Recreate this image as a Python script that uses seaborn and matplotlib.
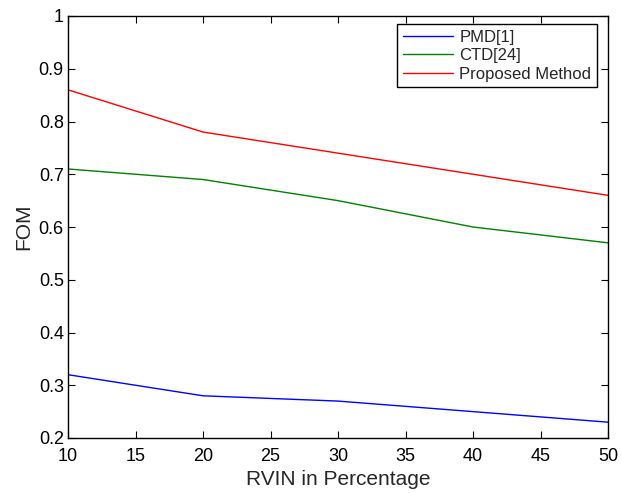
import matplotlib
matplotlib.use("Agg")
import matplotlib.pyplot as plt
import seaborn as sns
import pandas as pd

rvin = [10, 20, 30, 40, 50]
pmd = [0.32, 0.28, 0.27, 0.25, 0.23]
ctd = [0.71, 0.69, 0.65, 0.60, 0.57]
proposed = [0.86, 0.78, 0.74, 0.70, 0.66]
series_names = ["PMD[1]", "CTD[24]", "Proposed Method"]
x_ticks = [10, 15, 20, 25, 30, 35, 40, 45, 50]
y_ticks = [0.2, 0.3, 0.4, 0.5, 0.6, 0.7, 0.8, 0.9, 1.0]

df = pd.DataFrame({
    "RVIN": rvin * 3,
    "FOM": pmd + ctd + proposed,
    "Method": sum([[n] * len(rvin) for n in series_names], []),
})

sns.set_style("ticks")
plt.rcParams["font.family"] = ["Liberation Sans", "DejaVu Sans"]

fig = plt.figure(figsize=(6.22, 4.93), dpi=100)
ax = fig.add_axes([68 / 622, 1 - 438 / 493, 540 / 622, 422 / 493])

sns.lineplot(data=df, x="RVIN", y="FOM", hue="Method",
             palette=["#0000ff", "#008000", "#ff0000"], linewidth=1.0, ax=ax)

ax.set_xlim(10, 50)
ax.set_ylim(0.2, 1.0)
ax.set_xticks(x_ticks)
ax.set_xticklabels([str(t) for t in x_ticks])
ax.set_yticks(y_ticks)
ax.set_yticklabels(["0.2", "0.3", "0.4", "0.5", "0.6", "0.7", "0.8", "0.9", "1"])
ax.tick_params(direction="in", top=True, right=True, length=5, width=0.8,
               labelsize=13, colors="black")
ax.tick_params(axis="x", pad=7)
ax.tick_params(axis="y", pad=3)
for s in ax.spines.values():
    s.set_visible(True)
    s.set_linewidth(1.0)
    s.set_color("black")

ax.set_xlabel("RVIN in Percentage", fontsize=15, labelpad=4)
ax.set_ylabel("FOM", fontsize=15, labelpad=4)

leg = ax.legend(loc="upper right", fontsize=12, frameon=True, fancybox=False,
                edgecolor="black", framealpha=1, borderpad=0.35,
                handlelength=3.0, labelspacing=0.2, handletextpad=0.35,
                borderaxespad=0, bbox_to_anchor=(0.9796, 0.981))
leg.get_frame().set_linewidth(1.0)

fig.savefig("out.png", dpi=100)
